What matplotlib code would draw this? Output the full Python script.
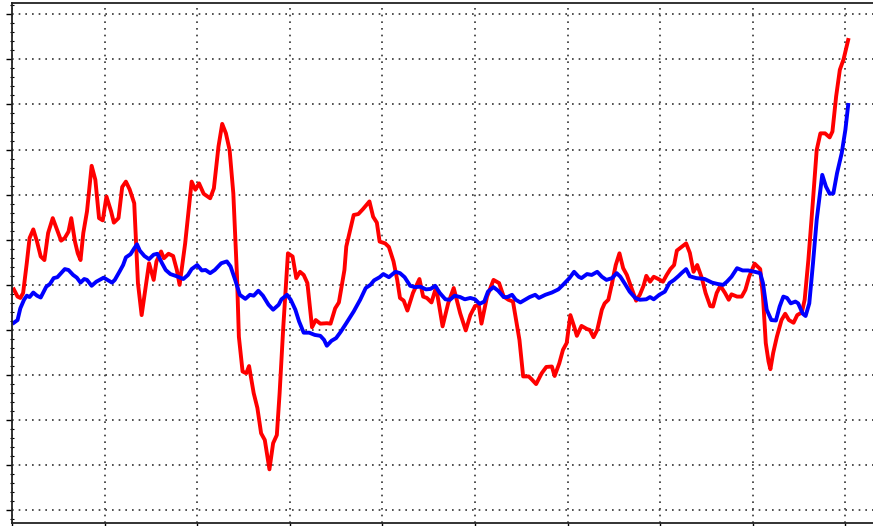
import matplotlib
matplotlib.use("Agg")
import matplotlib.pyplot as plt
from matplotlib.ticker import MultipleLocator

# red series (x in grid units, y in grid units)
red_x = [0.02, 0.06, 0.09, 0.12, 0.16, 0.19, 0.23, 0.27, 0.31, 0.35, 0.39, 0.44, 0.48, 0.53, 0.57, 0.61,
         0.64, 0.68, 0.71, 0.74, 0.77, 0.81, 0.86, 0.90, 0.94, 0.98, 1.02, 1.07, 1.10, 1.15, 1.19, 1.23,
         1.27, 1.32, 1.36, 1.40, 1.45, 1.48, 1.53, 1.56, 1.61, 1.64, 1.69, 1.74, 1.78, 1.81, 1.87, 1.94,
         1.98, 2.02, 2.07, 2.14, 2.18, 2.23, 2.27, 2.31, 2.35, 2.39, 2.43, 2.45, 2.49, 2.53, 2.56, 2.61,
         2.65, 2.69, 2.73, 2.78, 2.82, 2.86, 2.89, 2.93, 2.98, 3.03, 3.07, 3.11, 3.15, 3.19, 3.24, 3.28,
         3.33, 3.40, 3.44, 3.49, 3.53, 3.59, 3.61, 3.69, 3.74, 3.79, 3.86, 3.90, 3.94, 3.97, 4.03, 4.07,
         4.12, 4.16, 4.19, 4.23, 4.27, 4.33, 4.40, 4.44, 4.48, 4.53, 4.58, 4.65, 4.71, 4.77, 4.84, 4.90,
         4.95, 5.00, 5.04, 5.07, 5.13, 5.20, 5.26, 5.31, 5.36, 5.41, 5.45, 5.48, 5.52, 5.58, 5.61, 5.66,
         5.72, 5.77, 5.83, 5.86, 5.91, 5.95, 5.99, 6.03, 6.07, 6.10, 6.15, 6.21, 6.24, 6.28, 6.32, 6.37,
         6.40, 6.44, 6.48, 6.52, 6.56, 6.60, 6.64, 6.69, 6.74, 6.78, 6.82, 6.85, 6.89, 6.93, 6.98, 7.03,
         7.07, 7.11, 7.15, 7.18, 7.23, 7.28, 7.32, 7.36, 7.40, 7.45, 7.49, 7.54, 7.57, 7.61, 7.65, 7.70,
         7.74, 7.77, 7.83, 7.88, 7.92, 7.96, 8.02, 8.08, 8.11, 8.14, 8.17, 8.19, 8.22, 8.26, 8.31, 8.35,
         8.39, 8.44, 8.48, 8.53, 8.56, 8.60, 8.65, 8.69, 8.73, 8.78, 8.83, 8.86, 8.90, 8.94, 8.98, 9.03]
red_y = [-0.10, -0.26, -0.29, -0.18, 0.49, 1.04, 1.23, 0.96, 0.63, 0.55, 1.15, 1.48, 1.26, 0.98, 1.04, 1.18,
         1.48, 0.96, 0.70, 0.55, 1.15, 1.63, 2.64, 2.33, 1.48, 1.43, 1.96, 1.63, 1.38, 1.48, 2.17, 2.29,
         2.12, 1.81, 0.04, -0.67, 0.04, 0.48, 0.11, 0.52, 0.74, 0.59, 0.69, 0.64, 0.33, 0.00, 0.92, 2.29,
         2.11, 2.25, 2.02, 1.92, 2.14, 3.07, 3.57, 3.36, 2.99, 2.03, 0.18, -1.15, -1.92, -1.96, -1.80, -2.40,
         -2.73, -3.29, -3.44, -4.09, -3.51, -3.33, -2.40, -0.92, 0.70, 0.63, 0.15, 0.29, 0.22, 0.04, -0.94, -0.78,
         -0.86, -0.85, -0.86, -0.52, -0.39, 0.33, 0.85, 1.55, 1.57, 1.68, 1.85, 1.51, 1.38, 0.96, 0.92, 0.84,
         0.52, 0.11, -0.29, -0.35, -0.57, -0.18, 0.13, -0.26, -0.29, -0.39, -0.05, -0.92, -0.41, -0.07, -0.63, -1.01,
         -0.67, -0.47, -0.44, -0.86, -0.26, 0.11, 0.04, -0.26, -0.33, -0.37, -0.85, -1.22, -2.03, -2.03, -2.09, -2.20,
         -1.96, -1.82, -1.81, -2.02, -1.74, -1.44, -1.29, -0.67, -0.92, -1.13, -0.91, -0.98, -1.00, -1.16, -1.00, -0.55,
         -0.41, -0.33, 0.04, 0.44, 0.70, 0.37, 0.22, -0.07, -0.35, -0.22, -0.02, 0.20, 0.07, 0.18, 0.13, 0.07,
         0.22, 0.35, 0.44, 0.76, 0.84, 0.92, 0.71, 0.29, 0.44, 0.15, -0.18, -0.47, -0.48, -0.18, -0.02, -0.18,
         -0.33, -0.21, -0.26, -0.26, -0.11, 0.18, 0.47, 0.35, -0.26, -1.29, -1.70, -1.87, -1.51, -1.15, -0.78, -0.64,
         -0.78, -0.84, -0.67, -0.61, -0.33, 0.55, 1.88, 2.99, 3.36, 3.36, 3.27, 3.40, 4.18, 4.77, 5.00, 5.43]

# blue series
blue_x = [0.02, 0.06, 0.09, 0.13, 0.16, 0.19, 0.23, 0.27, 0.31, 0.37, 0.41, 0.45, 0.49, 0.53, 0.57, 0.61,
          0.66, 0.70, 0.74, 0.78, 0.81, 0.86, 0.91, 0.99, 1.03, 1.08, 1.11, 1.16, 1.20, 1.23, 1.28, 1.32,
          1.35, 1.38, 1.43, 1.48, 1.53, 1.57, 1.62, 1.66, 1.71, 1.78, 1.85, 1.90, 1.94, 2.00, 2.05, 2.09,
          2.14, 2.19, 2.26, 2.32, 2.36, 2.41, 2.46, 2.52, 2.57, 2.61, 2.66, 2.71, 2.77, 2.82, 2.88, 2.91,
          2.97, 3.01, 3.06, 3.10, 3.15, 3.21, 3.27, 3.33, 3.37, 3.40, 3.45, 3.50, 3.55, 3.61, 3.69, 3.76,
          3.82, 3.87, 3.91, 3.97, 4.01, 4.07, 4.14, 4.19, 4.24, 4.30, 4.35, 4.41, 4.47, 4.52, 4.57, 4.62,
          4.68, 4.73, 4.78, 4.84, 4.89, 4.95, 5.00, 5.05, 5.10, 5.14, 5.20, 5.25, 5.31, 5.35, 5.40, 5.44,
          5.49, 5.54, 5.59, 5.65, 5.69, 5.76, 5.83, 5.90, 5.95, 6.02, 6.07, 6.12, 6.15, 6.21, 6.26, 6.32,
          6.37, 6.42, 6.48, 6.53, 6.57, 6.62, 6.67, 6.73, 6.78, 6.85, 6.89, 6.93, 6.99, 7.05, 7.10, 7.15,
          7.20, 7.23, 7.28, 7.32, 7.39, 7.48, 7.56, 7.62, 7.68, 7.72, 7.77, 7.83, 7.89, 7.95, 8.02, 8.08,
          8.11, 8.15, 8.20, 8.25, 8.29, 8.33, 8.37, 8.41, 8.46, 8.49, 8.54, 8.57, 8.61, 8.65, 8.69, 8.75,
          8.79, 8.83, 8.87, 8.91, 8.96, 9.00, 9.03]
blue_y = [-0.84, -0.78, -0.52, -0.33, -0.24, -0.27, -0.17, -0.24, -0.28, -0.04, 0.02, 0.15, 0.17, 0.26, 0.35, 0.33,
          0.22, 0.16, 0.05, 0.13, 0.11, -0.02, 0.07, 0.16, 0.11, 0.05, 0.11, 0.29, 0.44, 0.61, 0.68, 0.81,
          0.90, 0.76, 0.64, 0.57, 0.67, 0.69, 0.48, 0.33, 0.24, 0.19, 0.13, 0.22, 0.35, 0.44, 0.32, 0.33,
          0.26, 0.33, 0.48, 0.52, 0.41, 0.11, -0.22, -0.31, -0.22, -0.24, -0.13, -0.24, -0.44, -0.55, -0.44, -0.32,
          -0.22, -0.33, -0.55, -0.81, -1.06, -1.06, -1.11, -1.13, -1.22, -1.35, -1.24, -1.18, -1.04, -0.85, -0.59, -0.33,
          -0.07, 0.00, 0.10, 0.17, 0.24, 0.17, 0.29, 0.26, 0.17, -0.02, -0.05, -0.04, -0.10, -0.09, -0.02, -0.18,
          -0.32, -0.33, -0.24, -0.27, -0.32, -0.29, -0.32, -0.42, -0.37, -0.15, -0.05, -0.13, -0.27, -0.27, -0.22, -0.33,
          -0.39, -0.33, -0.27, -0.22, -0.29, -0.22, -0.17, -0.10, 0.00, 0.15, 0.29, 0.18, 0.15, 0.24, 0.22, 0.29,
          0.18, 0.11, 0.15, 0.26, 0.18, 0.02, -0.15, -0.29, -0.33, -0.32, -0.27, -0.32, -0.22, -0.15, 0.04, 0.11,
          0.20, 0.26, 0.35, 0.19, 0.15, 0.13, 0.05, 0.02, 0.00, 0.07, 0.18, 0.37, 0.32, 0.32, 0.29, 0.26,
          0.04, -0.55, -0.78, -0.79, -0.48, -0.26, -0.29, -0.41, -0.37, -0.41, -0.64, -0.69, -0.41, 0.48, 1.44, 2.44,
          2.18, 2.02, 2.03, 2.48, 2.92, 3.44, 3.99]

fig = plt.figure(figsize=(8.73, 5.26), dpi=100)
ax = fig.add_axes([12 / 873, 3 / 526, 926 / 873, 520 / 526])

ax.plot(red_x, red_y, color='#ff0000', linewidth=2.8, solid_joinstyle='round')
ax.plot(blue_x, blue_y, color='#0000ff', linewidth=2.8, solid_joinstyle='round')

ax.set_xlim(0, 10)
ax.set_ylim(-5.28, 6.25)
ax.xaxis.set_major_locator(MultipleLocator(1))
ax.yaxis.set_major_locator(MultipleLocator(1))
ax.yaxis.set_minor_locator(MultipleLocator(0.2))
# dotted grid, dots about 5 px apart
ax.grid(True, which='major', linestyle=(0, (1, 3)), color='#333333', linewidth=1.2)

ax.tick_params(axis='y', which='major', direction='out', length=4, width=1, labelleft=False)
ax.tick_params(axis='y', which='minor', direction='inout', length=3, width=0.8)
ax.tick_params(axis='x', which='major', direction='out', length=3, width=1, labelbottom=False)
for side in ['left', 'top', 'bottom', 'right']:
    ax.spines[side].set_linewidth(1.3)
    ax.spines[side].set_color('#222222')

fig.savefig('out.png', dpi=100)
